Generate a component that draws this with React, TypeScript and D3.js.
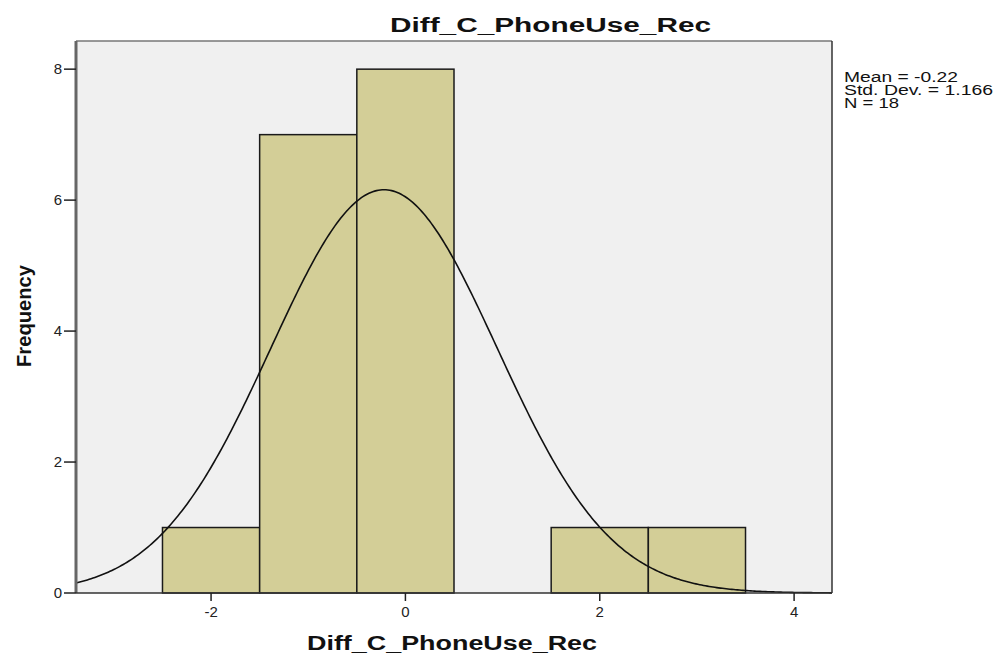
import React, { useEffect, useRef } from "react";
import * as d3 from "d3";

// histogram bins (edges) and counts
const binEdges = [-2.5, -1.5, -0.5, 0.5, 1.5, 2.5, 3.5];
const counts = [1, 7, 8, 0, 1, 1];
const xTicks = [-2, 0, 2, 4];
const yTicks = [0, 2, 4, 6, 8];
const statLines = ["Mean = -0.22", "Std. Dev. = 1.166", "N = 18"];
const statWidths = [114, 149, 55];
const mean = -0.22;
const sd = 1.166;
const n = 18;

const W = 997;
const H = 655;
const left = 76, right = 832, top = 41, bottom = 593;
const FONT = "Liberation Sans, Arial, sans-serif";

const App = () => {
  const ref = useRef<SVGSVGElement>(null);

  useEffect(() => {
    const svg = d3.select(ref.current);
    svg.selectAll("*").remove();

    const x = d3.scaleLinear().domain([-3.39, 4.39]).range([left, right]);
    const y = d3.scaleLinear().domain([0, 8.43]).range([bottom, top]);

    // plot background
    svg.append("rect")
      .attr("x", left).attr("y", top)
      .attr("width", right - left).attr("height", bottom - top)
      .attr("fill", "#f0f0f0");

    // bars
    const bars = counts.map((c, i) => ({ x0: binEdges[i], x1: binEdges[i + 1], c }))
      .filter(d => d.c > 0);
    svg.append("g").selectAll("rect")
      .data(bars)
      .enter()
      .append("rect")
      .attr("x", d => x(d.x0))
      .attr("y", d => y(d.c))
      .attr("width", d => x(d.x1) - x(d.x0))
      .attr("height", d => y(0) - y(d.c))
      .attr("fill", "#d3ce97")
      .attr("stroke", "#1a1a1a")
      .attr("stroke-width", 1.5);

    // normal curve scaled to bin width 1
    const binW = 1;
    const pts = d3.range(0, 401).map(i => {
      const v = -3.39 + (i / 400) * (4.39 + 3.39);
      const f = (n * binW) / (sd * Math.sqrt(2 * Math.PI)) * Math.exp(-((v - mean) ** 2) / (2 * sd * sd));
      return [v, f] as [number, number];
    });
    const line = d3.line<[number, number]>().x(d => x(d[0])).y(d => y(d[1]));
    svg.append("path")
      .attr("d", line(pts))
      .attr("fill", "none")
      .attr("stroke", "#111")
      .attr("stroke-width", 1.6);

    // frame
    svg.append("line").attr("x1", left).attr("x2", right).attr("y1", top).attr("y2", top)
      .attr("stroke", "#777").attr("stroke-width", 1.5);
    svg.append("line").attr("x1", right).attr("x2", right).attr("y1", top).attr("y2", bottom)
      .attr("stroke", "#333").attr("stroke-width", 1.5);
    svg.append("line").attr("x1", left).attr("x2", left).attr("y1", top).attr("y2", bottom)
      .attr("stroke", "#666").attr("stroke-width", 3);
    svg.append("line").attr("x1", left).attr("x2", right).attr("y1", bottom).attr("y2", bottom)
      .attr("stroke", "#333").attr("stroke-width", 1.5);

    // y axis ticks
    const yg = svg.append("g");
    yTicks.forEach(t => {
      yg.append("line").attr("x1", left - 12).attr("x2", left).attr("y1", y(t)).attr("y2", y(t))
        .attr("stroke", "#222").attr("stroke-width", 1.5);
      yg.append("text").attr("x", left - 14).attr("y", y(t) + 5)
        .attr("text-anchor", "end").attr("font-size", 15).attr("font-family", FONT)
        .attr("fill", "#222").text(t);
    });

    // x axis ticks
    const xg = svg.append("g");
    xTicks.forEach(t => {
      xg.append("line").attr("x1", x(t)).attr("x2", x(t)).attr("y1", bottom).attr("y2", bottom + 8)
        .attr("stroke", "#222").attr("stroke-width", 1.5);
      xg.append("text").attr("x", x(t)).attr("y", bottom + 24)
        .attr("text-anchor", "middle").attr("font-size", 15).attr("font-family", FONT)
        .attr("fill", "#222").text(t);
    });

    // titles
    svg.append("text").attr("x", 390).attr("y", 32)
      .attr("font-size", 20).attr("font-weight", "bold")
      .attr("font-family", FONT).attr("fill", "#111")
      .attr("textLength", 321).attr("lengthAdjust", "spacingAndGlyphs")
      .text("Diff_C_PhoneUse_Rec");
    svg.append("text").attr("x", 307).attr("y", 650)
      .attr("font-size", 20).attr("font-weight", "bold")
      .attr("font-family", FONT).attr("fill", "#111")
      .attr("textLength", 290).attr("lengthAdjust", "spacingAndGlyphs")
      .text("Diff_C_PhoneUse_Rec");
    svg.append("text")
      .attr("transform", `translate(31,367) rotate(-90)`)
      .attr("font-size", 21).attr("font-weight", "bold")
      .attr("font-family", FONT).attr("fill", "#111")
      .attr("textLength", 102).attr("lengthAdjust", "spacingAndGlyphs")
      .text("Frequency");

    // stats
    statLines.forEach((s, i) => {
      svg.append("text").attr("x", 844).attr("y", 82 + i * 13)
        .attr("font-size", 14).attr("font-family", FONT)
        .attr("textLength", statWidths[i]).attr("lengthAdjust", "spacingAndGlyphs")
        .attr("fill", "#111").text(s);
    });
  }, []);

  return (
    <svg ref={ref} width={W} height={H} style={{ position: "absolute", left: 0, top: 0, background: "#fff" }}></svg>
  );
};

export default App;
